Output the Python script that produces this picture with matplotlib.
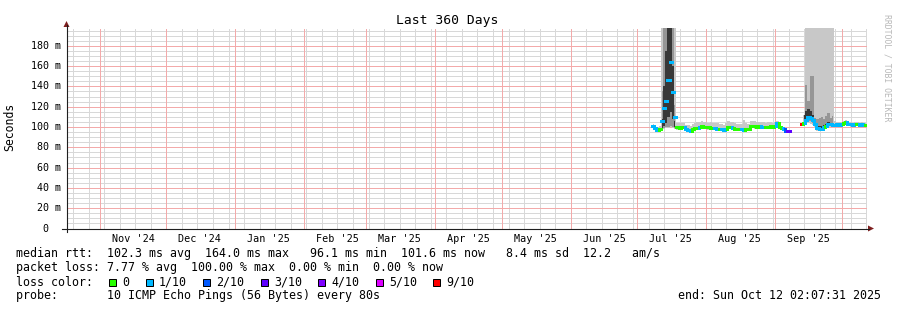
import numpy as np
import pandas as pd
import matplotlib
matplotlib.use('Agg')
import matplotlib.pyplot as plt
import matplotlib.dates as mdates
import matplotlib.transforms as mtrans
from matplotlib.collections import LineCollection
from matplotlib.patches import Polygon, Rectangle
from matplotlib.lines import Line2D

W, H, DPI = 897, 310, 100
MONO = 'DejaVu Sans Mono'

end_time = pd.Timestamp('2025-10-12 02:07:31')
start_time = end_time - pd.Timedelta(days=360)

# ---- data, milliseconds, one value per day ----
seg1_start = '2025-07-08'
median1 = [101, 99, 97, 98,
           106, 119, 126, 146, 164, 134, 110,
           99.5, 99, 99.5, 100,
           98, 97, 96.5, 98,
           99, 99, 100, 100.5, 99.5,
           100, 99.5, 99, 99, 99, 98.5, 98,
           98, 97.5, 98.5, 100, 99.5, 99, 98.5,
           98.5, 98, 98, 97.5, 98, 98.5, 100.5,
           101, 100.5, 100, 100.5, 100, 100, 99.5,
           100, 100.5, 100,
           100.5, 104, 100, 99, 98, 96.5, 96.1]
loss1 = [1, 1, 1, 0,
         1, 1, 1, 1, 1, 1, 1,
         0, 0, 0, 0,
         1, 1, 1, 0,
         0, 0, 1, 0, 0,
         0, 0, 0, 0, 1, 1, 0,
         1, 1, 1, 0, 0, 1, 0,
         0, 0, 1, 1, 0, 0, 0,
         0, 0, 0, 0, 1, 1, 0,
         0, 0, 0,
         0, 1, 0, 0, 1, 2, 3]
hi1 = [102.5, 101, 99.5, 100.5,
       250, 250, 250, 250, 250, 250, 250,
       104, 104, 103.5, 104,
       102, 101.5, 101, 103,
       104, 104.5, 105, 106, 105,
       105, 104, 104.5, 104, 104, 103.5, 103,
       102.5, 102, 104, 106, 105, 104.5, 104,
       103, 102.5, 103, 107, 104, 103, 106,
       106, 105.5, 105, 105, 104.5, 104.5, 104,
       105, 104.5, 104,
       104.5, 106, 103, 101, 99.5, 98, 97.5]
lo1 = [99, 97.5, 95.5, 96.5,
       97, 98, 99, 99, 100, 99, 98,
       97.5, 97, 97.5, 98,
       96.5, 95.5, 95, 96.5,
       97.5, 97.5, 98, 98.5, 98,
       98, 97.5, 97.5, 97.5, 97.5, 97, 96.5,
       96.5, 96, 97, 98, 98, 97.5, 97,
       97, 96.5, 96.5, 96, 96.5, 97, 98.5,
       99, 98.5, 98, 98.5, 98, 98, 98,
       98, 98.5, 98,
       98.5, 101, 98, 97, 96, 95, 94.5]

burst1_start = '2025-07-12'
burst1_mid_hi = [135, 250, 250, 250, 250, 250, 122]
burst1_mid_lo = [98, 99, 100, 100, 101, 100, 99]
burst1_dark_hi = [108, 140, 175, 250, 205, 160, 106]
burst1_dark_lo = [99, 101, 104, 110, 115, 108, 100]

seg2_start = '2025-09-13'
median2 = [103, 104, 107, 110, 109, 107, 103, 99, 98.5, 98.5, 100, 101, 103, 102.5, 102, 102, 102.5, 102,
           103, 103.5, 104.5, 103, 102.5, 102, 102.5, 103, 102, 102.5, 102, 101.6]
loss2 = [9, 0, 1, 1, 1, 1, 1, 1, 1, 1, 1, 0, 1, 1, 1, 1, 1, 1,
         1, 0, 0, 1, 1, 1, 1, 0, 1, 1, 1, 0]
hi2 = [104, 112, 250, 250, 250, 250, 250, 250, 250, 250, 250, 250, 250, 250, 250, 106, 105, 104.5,
       105, 106, 107, 105, 104.5, 104, 104.5, 105, 104, 104.5, 104, 104]
lo2 = [101, 101, 102, 104, 103, 102, 99, 96.5, 96, 96, 97.5, 98.5, 100, 100, 99.5, 99.5, 100, 99.5,
       100.5, 101, 102, 100.5, 100, 99.5, 100, 100.5, 99.5, 100, 99.5, 99.5]

burst2_start = '2025-09-14'
burst2_mid_hi = [110, 141, 126, 150, 150, 109, 108, 109, 110, 108, 111, 114, 109, 111]
burst2_mid_lo = [102, 104, 106, 106, 104, 101, 97.5, 97, 97, 98.5, 99.5, 101, 101, 100.5]
burst2_dark_hi = [112, 116, 118, 116, 112, 106, 101, 100.5, 100.5, 102, 103, 105, 104, 104]
burst2_dark_lo = [102.5, 105, 108, 107, 105, 101.5, 98, 97.5, 97.5, 99, 100, 102, 101.5, 101]

loss_colors = {0: '#26ff00', 1: '#00b8ff', 2: '#0059ff', 3: '#5e00ff',
               4: '#7e00ff', 5: '#dd00ff', 9: '#ff0000'}
loss_labels = ['0', '1/10', '2/10', '3/10', '4/10', '5/10', '9/10']

ytick_vals = [0, 20, 40, 60, 80, 100, 120, 140, 160, 180]
ytick_labels = ['0'] + ['%d m' % v for v in ytick_vals[1:]]

legend_lines = [
    "median rtt:  102.3 ms avg  164.0 ms max   96.1 ms min  101.6 ms now   8.4 ms sd  12.2   am/s",
    "packet loss: 7.77 % avg  100.00 % max  0.00 % min  0.00 % now",
    "loss color:",
    "probe:       10 ICMP Echo Pings (56 Bytes) every 80s",
]


def days(start, n):
    return mdates.date2num(pd.date_range(start, periods=n, freq='D').to_pydatetime())


def fx(x):
    return x / W


def fy(y):
    return 1 - y / H


def median_segments(t, vals, losses):
    segs, cols = [], []
    for i in range(len(t)):
        c = loss_colors[losses[i]]
        segs.append([(t[i] - 0.5, vals[i]), (t[i] + 0.5, vals[i])])
        cols.append(c)
        # join neighbours only on small steps, big jumps stay as loose dots
        if i > 0 and abs(vals[i] - vals[i - 1]) <= 6:
            segs.append([(t[i] - 0.5, vals[i - 1]), (t[i] - 0.5, vals[i])])
            cols.append(c)
    return segs, cols


fig = plt.figure(figsize=(W / DPI, H / DPI), dpi=DPI)
fig.patch.set_facecolor('white')

left, right, top, bottom = 66.5, 866.5, 27.5, 228.5
ax = fig.add_axes([left / W, 1 - bottom / H, (right - left) / W, (bottom - top) / H])
ax.set_xlim(mdates.date2num(start_time.to_pydatetime()), mdates.date2num(end_time.to_pydatetime()))
ax.set_ylim(0, 198)
for s in ax.spines.values():
    s.set_visible(False)
ax.set_xticks([])
ax.set_yticks([])

# grid
gray, red = '#d8d8d8', '#f3aaaa'
gstyle = dict(lw=0.72, ls=(0, (1, 1)), antialiased=False)
for v in range(5, 198, 5):
    if v % 20:
        ax.axhline(v, color=gray, zorder=0, **gstyle)
for d in pd.date_range(start_time.normalize(), end_time, freq='W-SUN'):
    ax.axvline(mdates.date2num(d.to_pydatetime()), color=gray, zorder=0, **gstyle)
for v in ytick_vals[1:]:
    ax.axhline(v, color=red, zorder=0.5, **gstyle)
months = pd.date_range('2024-11-01', end_time, freq='MS')
for d in months:
    ax.axvline(mdates.date2num(d.to_pydatetime()), color=red, zorder=0.5, **gstyle)

# smoke
t1 = days(seg1_start, len(median1))
t2 = days(seg2_start, len(median2))
tb1 = days(burst1_start, len(burst1_mid_hi))
tb2 = days(burst2_start, len(burst2_mid_hi))
for t, lo, hi in [(t1, lo1, hi1), (t2, lo2, hi2)]:
    ax.fill_between(t, lo, hi, step='mid', color='#c8c8c8', lw=0, zorder=2)
for t, lo, hi in [(tb1, burst1_mid_lo, burst1_mid_hi), (tb2, burst2_mid_lo, burst2_mid_hi)]:
    ax.fill_between(t, lo, hi, step='mid', color='#969696', lw=0, zorder=2.5)
for t, lo, hi in [(tb1, burst1_dark_lo, burst1_dark_hi), (tb2, burst2_dark_lo, burst2_dark_hi)]:
    ax.fill_between(t, lo, hi, step='mid', color='#383838', lw=0, zorder=3)

# median coloured by loss
for t, m, l in [(t1, median1, loss1), (t2, median2, loss2)]:
    segs, cols = median_segments(t, m, l)
    ax.add_collection(LineCollection(segs, colors=cols, linewidths=2.16,
                                     capstyle='projecting', zorder=4))

# axis labels
ylab_off = mtrans.ScaledTranslation(-5.8 / DPI, 0, fig.dpi_scale_trans)
zero_off = mtrans.ScaledTranslation(-17.8 / DPI, 0, fig.dpi_scale_trans)
for v, lab in zip(ytick_vals, ytick_labels):
    off = zero_off if v == 0 else ylab_off
    ax.text(0, v, lab, transform=ax.get_yaxis_transform() + off, ha='right', va='center',
            family=MONO, size=7.2, clip_on=False)
xlab_off = mtrans.ScaledTranslation(0, -13 / DPI, fig.dpi_scale_trans)
for d in months[:-1]:
    mid = d + pd.Timedelta(days=15)
    ax.text(mdates.date2num(mid.to_pydatetime()), 0, d.strftime("%b '%y"),
            transform=ax.get_xaxis_transform() + xlab_off, ha='center', va='baseline',
            family=MONO, size=7.3, clip_on=False)

# axes lines and arrows
axis_col, arrow_col = '#1f1f1f', '#7f1f1f'
fig.add_artist(Line2D([fx(62), fx(869)], [fy(228.5)] * 2, color=axis_col, lw=0.8))
fig.add_artist(Line2D([fx(66.5)] * 2, [fy(232), fy(25)], color=axis_col, lw=0.8))
fig.add_artist(Polygon([(fx(868), fy(225.5)), (fx(874), fy(228.5)), (fx(868), fy(231.5))],
                       closed=True, color=arrow_col, lw=0))
fig.add_artist(Polygon([(fx(63.5), fy(27)), (fx(66.5), fy(21)), (fx(69.5), fy(27))],
                       closed=True, color=arrow_col, lw=0))

# texts
fig.text(fx(447.5), fy(24.3), 'Last 360 Days', ha='center', va='baseline', family=MONO, size=9.4)
fig.text(fx(10), fy(127), 'Seconds', rotation=90, ha='center', va='center', family=MONO, size=8.3)
fig.text(fx(887), fy(68), 'RRDTOOL / TOBI OETIKER', rotation=270, ha='center', va='center',
         family=MONO, size=5.9, color='#b8b8b8')

FS = 8.35
baselines = [257.5, 271.5, 285.5, 299.3]
for line, yb in zip(legend_lines, baselines):
    fig.text(fx(15.5), fy(yb), line, ha='left', va='baseline', family=MONO, size=FS)
fig.text(fx(881), fy(baselines[3]), 'end: Sun Oct 12 02:07:31 2025', ha='right', va='baseline',
         family=MONO, size=FS)

box_x = [109, 145.7, 203.3, 260.7, 318.3, 375.7, 433.3]
for bx, key, lab in zip(box_x, [0, 1, 2, 3, 4, 5, 9], loss_labels):
    fig.add_artist(Rectangle((fx(bx), fy(286)), 7 / W, 7 / H, facecolor=loss_colors[key],
                             edgecolor='black', lw=0.72))
    fig.text(fx(bx + 13.3), fy(baselines[2]), lab, ha='left', va='baseline', family=MONO, size=FS)

fig.savefig('out.png', dpi=DPI, facecolor='white')
